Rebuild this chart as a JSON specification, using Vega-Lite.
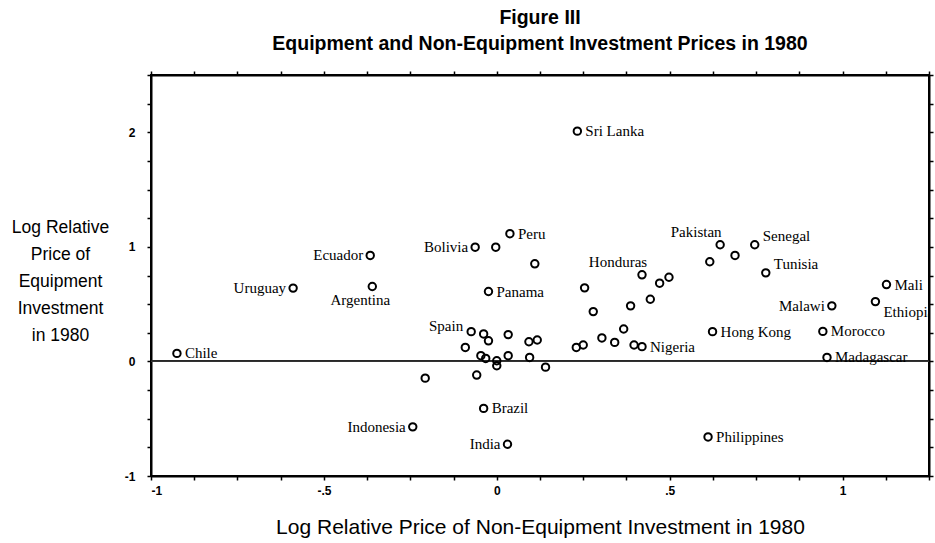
{
  "$schema": "https://vega.github.io/schema/vega-lite/v6.json",
  "autosize": {"type": "none"},
  "width": 778,
  "height": 401,
  "padding": {"left": 151, "top": 75, "right": 6, "bottom": 67},
  "background": "white",
  "title": {
    "text": ["Figure III", "Equipment and Non-Equipment Investment Prices in 1980"],
    "font": "Liberation Sans",
    "fontSize": 19.5,
    "fontWeight": "bold",
    "lineHeight": 26,
    "offset": 16,
    "anchor": "middle",
    "color": "black"
  },
  "config": {
    "view": {"stroke": "black", "strokeWidth": 2},
    "axis": {
      "grid": false,
      "domainColor": "black",
      "domainWidth": 2,
      "tickColor": "black",
      "tickWidth": 1.5,
      "tickSize": 4,
      "labelFont": "Liberation Sans",
      "labelFontSize": 12,
      "labelColor": "black",
      "labelFontWeight": "bold",
      "titleFont": "Liberation Sans",
      "titleColor": "black",
      "titleFontWeight": "normal"
    },
    "text": {"font": "Liberation Serif", "fontSize": 15, "color": "black"}
  },
  "data": {
    "values": [
      {"name": "Chile", "side": "r", "x": -0.925, "y": 0.07},
      {"name": "Uruguay", "side": "l", "x": -0.589, "y": 0.64},
      {"name": "Ecuador", "side": "l", "x": -0.366, "y": 0.925},
      {"name": "Argentina", "side": "b", "x": -0.36, "y": 0.654},
      {"name": "Bolivia", "side": "l", "x": -0.0625, "y": 0.997},
      {"name": "", "side": "", "x": -0.003, "y": 0.997},
      {"name": "Peru", "side": "r", "x": 0.038, "y": 1.115},
      {"name": "", "side": "", "x": 0.11, "y": 0.852},
      {"name": "Panama", "side": "r", "x": -0.024, "y": 0.61},
      {"name": "Spain", "side": "ul", "x": -0.074, "y": 0.26},
      {"name": "", "side": "", "x": -0.038, "y": 0.24},
      {"name": "", "side": "", "x": -0.024, "y": 0.18},
      {"name": "", "side": "", "x": 0.033, "y": 0.234},
      {"name": "", "side": "", "x": 0.093, "y": 0.172},
      {"name": "", "side": "", "x": 0.117, "y": 0.187},
      {"name": "", "side": "", "x": -0.091, "y": 0.122},
      {"name": "", "side": "", "x": -0.046, "y": 0.05},
      {"name": "", "side": "", "x": -0.032, "y": 0.026},
      {"name": "", "side": "", "x": 0.0, "y": 0.006},
      {"name": "", "side": "", "x": 0.0, "y": -0.038},
      {"name": "", "side": "", "x": 0.033, "y": 0.05},
      {"name": "", "side": "", "x": 0.095, "y": 0.035},
      {"name": "", "side": "", "x": 0.141, "y": -0.05},
      {"name": "", "side": "", "x": -0.207, "y": -0.146},
      {"name": "", "side": "", "x": -0.058, "y": -0.119},
      {"name": "Brazil", "side": "r", "x": -0.038, "y": -0.41},
      {"name": "Indonesia", "side": "l", "x": -0.243, "y": -0.571},
      {"name": "India", "side": "l", "x": 0.031, "y": -0.723},
      {"name": "Sri Lanka", "side": "r", "x": 0.233, "y": 2.01},
      {"name": "", "side": "", "x": 0.254, "y": 0.642},
      {"name": "", "side": "", "x": 0.279, "y": 0.435},
      {"name": "Honduras", "side": "a", "x": 0.42, "y": 0.756},
      {"name": "", "side": "", "x": 0.471, "y": 0.683},
      {"name": "", "side": "", "x": 0.498, "y": 0.735},
      {"name": "", "side": "", "x": 0.444, "y": 0.543},
      {"name": "", "side": "", "x": 0.387, "y": 0.485},
      {"name": "", "side": "", "x": 0.367, "y": 0.283},
      {"name": "", "side": "", "x": 0.304, "y": 0.205},
      {"name": "", "side": "", "x": 0.341, "y": 0.166},
      {"name": "", "side": "", "x": 0.23, "y": 0.122},
      {"name": "", "side": "", "x": 0.25, "y": 0.143},
      {"name": "", "side": "", "x": 0.397, "y": 0.143},
      {"name": "Nigeria", "side": "r", "x": 0.42, "y": 0.129},
      {"name": "Pakistan", "side": "a", "x": 0.646, "y": 1.018},
      {"name": "", "side": "", "x": 0.616, "y": 0.87},
      {"name": "", "side": "", "x": 0.689, "y": 0.925},
      {"name": "Senegal", "side": "ur", "x": 0.746, "y": 1.018},
      {"name": "Tunisia", "side": "ur", "x": 0.778, "y": 0.773},
      {"name": "Hong Kong", "side": "r", "x": 0.624, "y": 0.26},
      {"name": "Philippines", "side": "r", "x": 0.611, "y": -0.659},
      {"name": "Malawi", "side": "l", "x": 0.969, "y": 0.485},
      {"name": "Morocco", "side": "r", "x": 0.943, "y": 0.262},
      {"name": "Madagascar", "side": "r", "x": 0.955, "y": 0.035},
      {"name": "Mali", "side": "r", "x": 1.127, "y": 0.671},
      {"name": "Ethiopia", "side": "br", "x": 1.095, "y": 0.522}
    ]
  },
  "layer": [
    {
      "mark": {"type": "rule", "color": "#333333", "strokeWidth": 1},
      "encoding": {
        "y": {"datum": 0, "type": "quantitative", "scale": {"domain": [-1, 2.5], "nice": false, "zero": false}, "axis": null}
      }
    },
    {
      "mark": {"type": "point", "shape": "circle", "filled": false, "color": "black", "strokeWidth": 2, "size": 55, "opacity": 1},
      "encoding": {
        "x": {
          "field": "x", "type": "quantitative",
          "scale": {"domain": [-1, 1.25], "nice": false, "zero": false},
          "axis": {
            "orient": "bottom",
            "values": [-1, -0.875, -0.75, -0.625, -0.5, -0.375, -0.25, -0.125, 0, 0.125, 0.25, 0.375, 0.5, 0.625, 0.75, 0.875, 1, 1.125, 1.25],
            "labelExpr": "datum.value == -1 ? '-1' : datum.value == -0.5 ? '-.5' : datum.value == 0 ? '0' : datum.value == 0.5 ? '.5' : datum.value == 1 ? '1' : ''",
            "labelPadding": 5,
            "title": "Log Relative Price of Non-Equipment Investment in 1980",
            "titleFontSize": 21,
            "titlePadding": 20
          }
        },
        "y": {
          "field": "y", "type": "quantitative",
          "scale": {"domain": [-1, 2.5], "nice": false, "zero": false},
          "axis": {
            "orient": "left",
            "values": [-1, -0.75, -0.5, -0.25, 0, 0.25, 0.5, 0.75, 1, 1.25, 1.5, 1.75, 2, 2.25, 2.5],
            "labelExpr": "datum.value == -1 ? '-1' : datum.value == 0 ? '0' : datum.value == 1 ? '1' : datum.value == 2 ? '2' : ''",
            "labelPadding": 12,
            "title": ["Log Relative", "Price of", "Equipment", "Investment", "in 1980"],
            "titleAngle": 0,
            "titleAlign": "center",
            "titleBaseline": "middle",
            "titleX": -91,
            "titleY": 152,
            "titleFontSize": 17.5,
            "titleLineHeight": 27
          }
        }
      }
    },
    {
      "transform": [{"filter": "datum.side == 'r'"}],
      "mark": {"type": "text", "align": "left", "baseline": "middle", "dx": 8, "dy": 0},
      "encoding": {
        "x": {
          "field": "x", "type": "quantitative",
          "scale": {"domain": [-1, 1.25], "nice": false, "zero": false},
          "axis": {
            "orient": "top",
            "values": [-1, -0.875, -0.75, -0.625, -0.5, -0.375, -0.25, -0.125, 0, 0.125, 0.25, 0.375, 0.5, 0.625, 0.75, 0.875, 1, 1.125, 1.25],
            "labels": false,
            "title": null
          }
        },
        "y": {
          "field": "y", "type": "quantitative",
          "scale": {"domain": [-1, 2.5], "nice": false, "zero": false},
          "axis": {
            "orient": "right",
            "values": [-1, -0.75, -0.5, -0.25, 0, 0.25, 0.5, 0.75, 1, 1.25, 1.5, 1.75, 2, 2.25, 2.5],
            "labels": false,
            "title": null
          }
        },
        "text": {"field": "name"}
      }
    },
    {
      "transform": [{"filter": "datum.side == 'l'"}],
      "mark": {"type": "text", "align": "right", "baseline": "middle", "dx": -7, "dy": 0},
      "encoding": {
        "x": {"field": "x", "type": "quantitative", "axis": null},
        "y": {"field": "y", "type": "quantitative", "axis": null},
        "text": {"field": "name"}
      }
    },
    {
      "transform": [{"filter": "datum.side == 'ul'"}],
      "mark": {"type": "text", "align": "right", "baseline": "middle", "dx": -8, "dy": -6},
      "encoding": {
        "x": {"field": "x", "type": "quantitative", "axis": null},
        "y": {"field": "y", "type": "quantitative", "axis": null},
        "text": {"field": "name"}
      }
    },
    {
      "transform": [{"filter": "datum.side == 'b'"}],
      "mark": {"type": "text", "align": "center", "baseline": "middle", "dx": -12, "dy": 14},
      "encoding": {
        "x": {"field": "x", "type": "quantitative", "axis": null},
        "y": {"field": "y", "type": "quantitative", "axis": null},
        "text": {"field": "name"}
      }
    },
    {
      "transform": [{"filter": "datum.side == 'a'"}],
      "mark": {"type": "text", "align": "center", "baseline": "middle", "dx": -24, "dy": -13},
      "encoding": {
        "x": {"field": "x", "type": "quantitative", "axis": null},
        "y": {"field": "y", "type": "quantitative", "axis": null},
        "text": {"field": "name"}
      }
    },
    {
      "transform": [{"filter": "datum.side == 'ur'"}],
      "mark": {"type": "text", "align": "left", "baseline": "middle", "dx": 8, "dy": -9},
      "encoding": {
        "x": {"field": "x", "type": "quantitative", "axis": null},
        "y": {"field": "y", "type": "quantitative", "axis": null},
        "text": {"field": "name"}
      }
    },
    {
      "transform": [{"filter": "datum.side == 'br'"}],
      "mark": {"type": "text", "align": "left", "baseline": "middle", "dx": 8, "dy": 10, "clip": true},
      "encoding": {
        "x": {"field": "x", "type": "quantitative", "axis": null},
        "y": {"field": "y", "type": "quantitative", "axis": null},
        "text": {"field": "name"}
      }
    }
  ],
  "resolve": {"axis": {"x": "independent", "y": "independent"}}
}
